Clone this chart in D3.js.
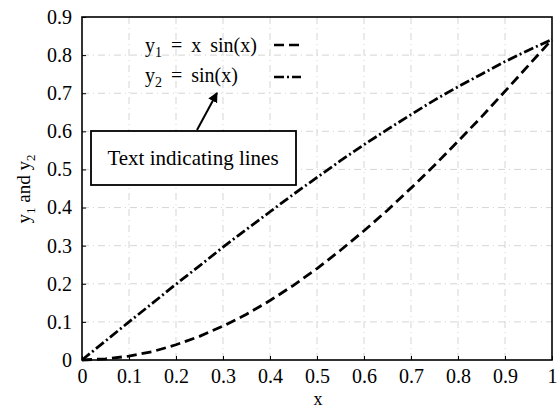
<!DOCTYPE html>
<html><head><meta charset="utf-8">
<script src="https://cdn.jsdelivr.net/npm/d3@7"></script>
<style>body{margin:0;background:#fff}svg{display:block}text{font-family:"Liberation Serif","DejaVu Serif",serif;fill:#000}</style>
</head><body><svg id="c" width="560" height="408"></svg>
<script>
const xValues = [0,0.05,0.1,0.15,0.2,0.25,0.3,0.35,0.4,0.45,0.5,0.55,0.6,0.65,0.7,0.75,0.8,0.85,0.9,0.95,1];
const y1Values = [0,0.003,0.01,0.022,0.04,0.062,0.089,0.12,0.156,0.196,0.24,0.288,0.339,0.393,0.451,0.511,0.574,0.638,0.705,0.773,0.841];
const y2Values = [0,0.05,0.1,0.149,0.199,0.247,0.296,0.343,0.389,0.435,0.479,0.523,0.565,0.605,0.644,0.682,0.717,0.75,0.783,0.813,0.841];
const xTicks = [0,0.1,0.2,0.3,0.4,0.5,0.6,0.7,0.8,0.9,1];
const yTicks = [0,0.1,0.2,0.3,0.4,0.5,0.6,0.7,0.8,0.9];
const xTickLabels = ["0","0.1","0.2","0.3","0.4","0.5","0.6","0.7","0.8","0.9","1"];
const yTickLabels = ["0","0.1","0.2","0.3","0.4","0.5","0.6","0.7","0.8","0.9"];

const svg = d3.select("#c");
const L=82,R=552,T=17,B=360;
const x = d3.scaleLinear().domain([0,1]).range([L,R]);
const y = d3.scaleLinear().domain([0,0.9]).range([B,T]);

// grid
const g = svg.append("g").attr("stroke","#999").attr("stroke-width",0.8).attr("stroke-dasharray","7,4,1,4").attr("opacity",0.5);
xTicks.slice(1,-1).forEach(t=>g.append("line").attr("x1",x(t)).attr("x2",x(t)).attr("y1",T).attr("y2",B));
yTicks.slice(1,-1).forEach(t=>g.append("line").attr("x1",L).attr("x2",R).attr("y1",y(t)).attr("y2",y(t)));

// axes
const xa = svg.append("g").attr("transform",`translate(0,${B})`)
  .call(d3.axisBottom(x).tickValues(xTicks).tickFormat((d,i)=>xTickLabels[i]).tickSize(-4).tickPadding(9));
const ya = svg.append("g").attr("transform",`translate(${L},0)`)
  .call(d3.axisLeft(y).tickValues(yTicks).tickFormat((d,i)=>yTickLabels[i]).tickSize(-4).tickPadding(10));
[xa,ya].forEach(a=>{a.select(".domain").remove();a.selectAll("line").attr("stroke","#000");
  a.selectAll("text").attr("font-size",20).attr("font-family","Liberation Serif, serif");});
xa.selectAll("text").attr("dy","0.71em");
svg.append("rect").attr("x",L).attr("y",T).attr("width",R-L).attr("height",B-T)
  .attr("fill","none").attr("stroke","#000").attr("stroke-width",1.6);

// lines
const line1 = d3.line().x((d,i)=>x(xValues[i])).y(d=>y(d));
svg.append("path").datum(y1Values).attr("d",line1).attr("fill","none").attr("stroke","#000")
  .attr("stroke-width",2.8).attr("stroke-dasharray","10,5");
svg.append("path").datum(y2Values).attr("d",line1).attr("fill","none").attr("stroke","#000")
  .attr("stroke-width",2.8).attr("stroke-dasharray","10,3,2,3");

// legend
const leg = [{sub:"1",txt:" = x sin(x)",dash:"10,5"},{sub:"2",txt:" = sin(x)",dash:"10,3,2,3"}];
leg.forEach((l,i)=>{
  const t = svg.append("text").attr("x",145).attr("y",52+i*30).attr("font-size",20).attr("word-spacing",4);
  t.append("tspan").text("y");
  t.append("tspan").attr("font-size",14).attr("dy",5).text(l.sub);
  t.append("tspan").attr("dy",-5).text(l.txt);
  svg.append("line").attr("x1",274).attr("x2",301).attr("y1",45+i*32).attr("y2",45+i*32)
    .attr("stroke","#000").attr("stroke-width",2.6).attr("stroke-dasharray",l.dash);
});

// annotation box + arrow
svg.append("defs").append("marker").attr("id","ah").attr("viewBox","0 0 10 10").attr("refX",9).attr("refY",5)
  .attr("markerWidth",5).attr("markerHeight",5).attr("orient","auto")
  .append("path").attr("d","M0,0L10,5L0,10z").attr("fill","#000");
svg.append("line").attr("x1",197).attr("y1",130).attr("x2",217).attr("y2",93)
  .attr("stroke","#000").attr("stroke-width",2).attr("marker-end","url(#ah)");
svg.append("rect").attr("x",91).attr("y",131).attr("width",205).attr("height",54)
  .attr("fill","#fff").attr("stroke","#000").attr("stroke-width",1.8);
svg.append("text").attr("x",193).attr("y",165).attr("text-anchor","middle").attr("font-size",21).text("Text indicating lines");

// axis labels
svg.append("text").attr("x",318).attr("y",405).attr("text-anchor","middle").attr("font-size",18).text("x");
const yl = svg.append("text").attr("transform","translate(30,189) rotate(-90)").attr("text-anchor","middle").attr("font-size",19);
yl.append("tspan").text("y");
yl.append("tspan").attr("font-size",13).attr("dy",5).text("1");
yl.append("tspan").attr("dy",-5).text(" and y");
yl.append("tspan").attr("font-size",13).attr("dy",5).text("2");
</script></body></html>
